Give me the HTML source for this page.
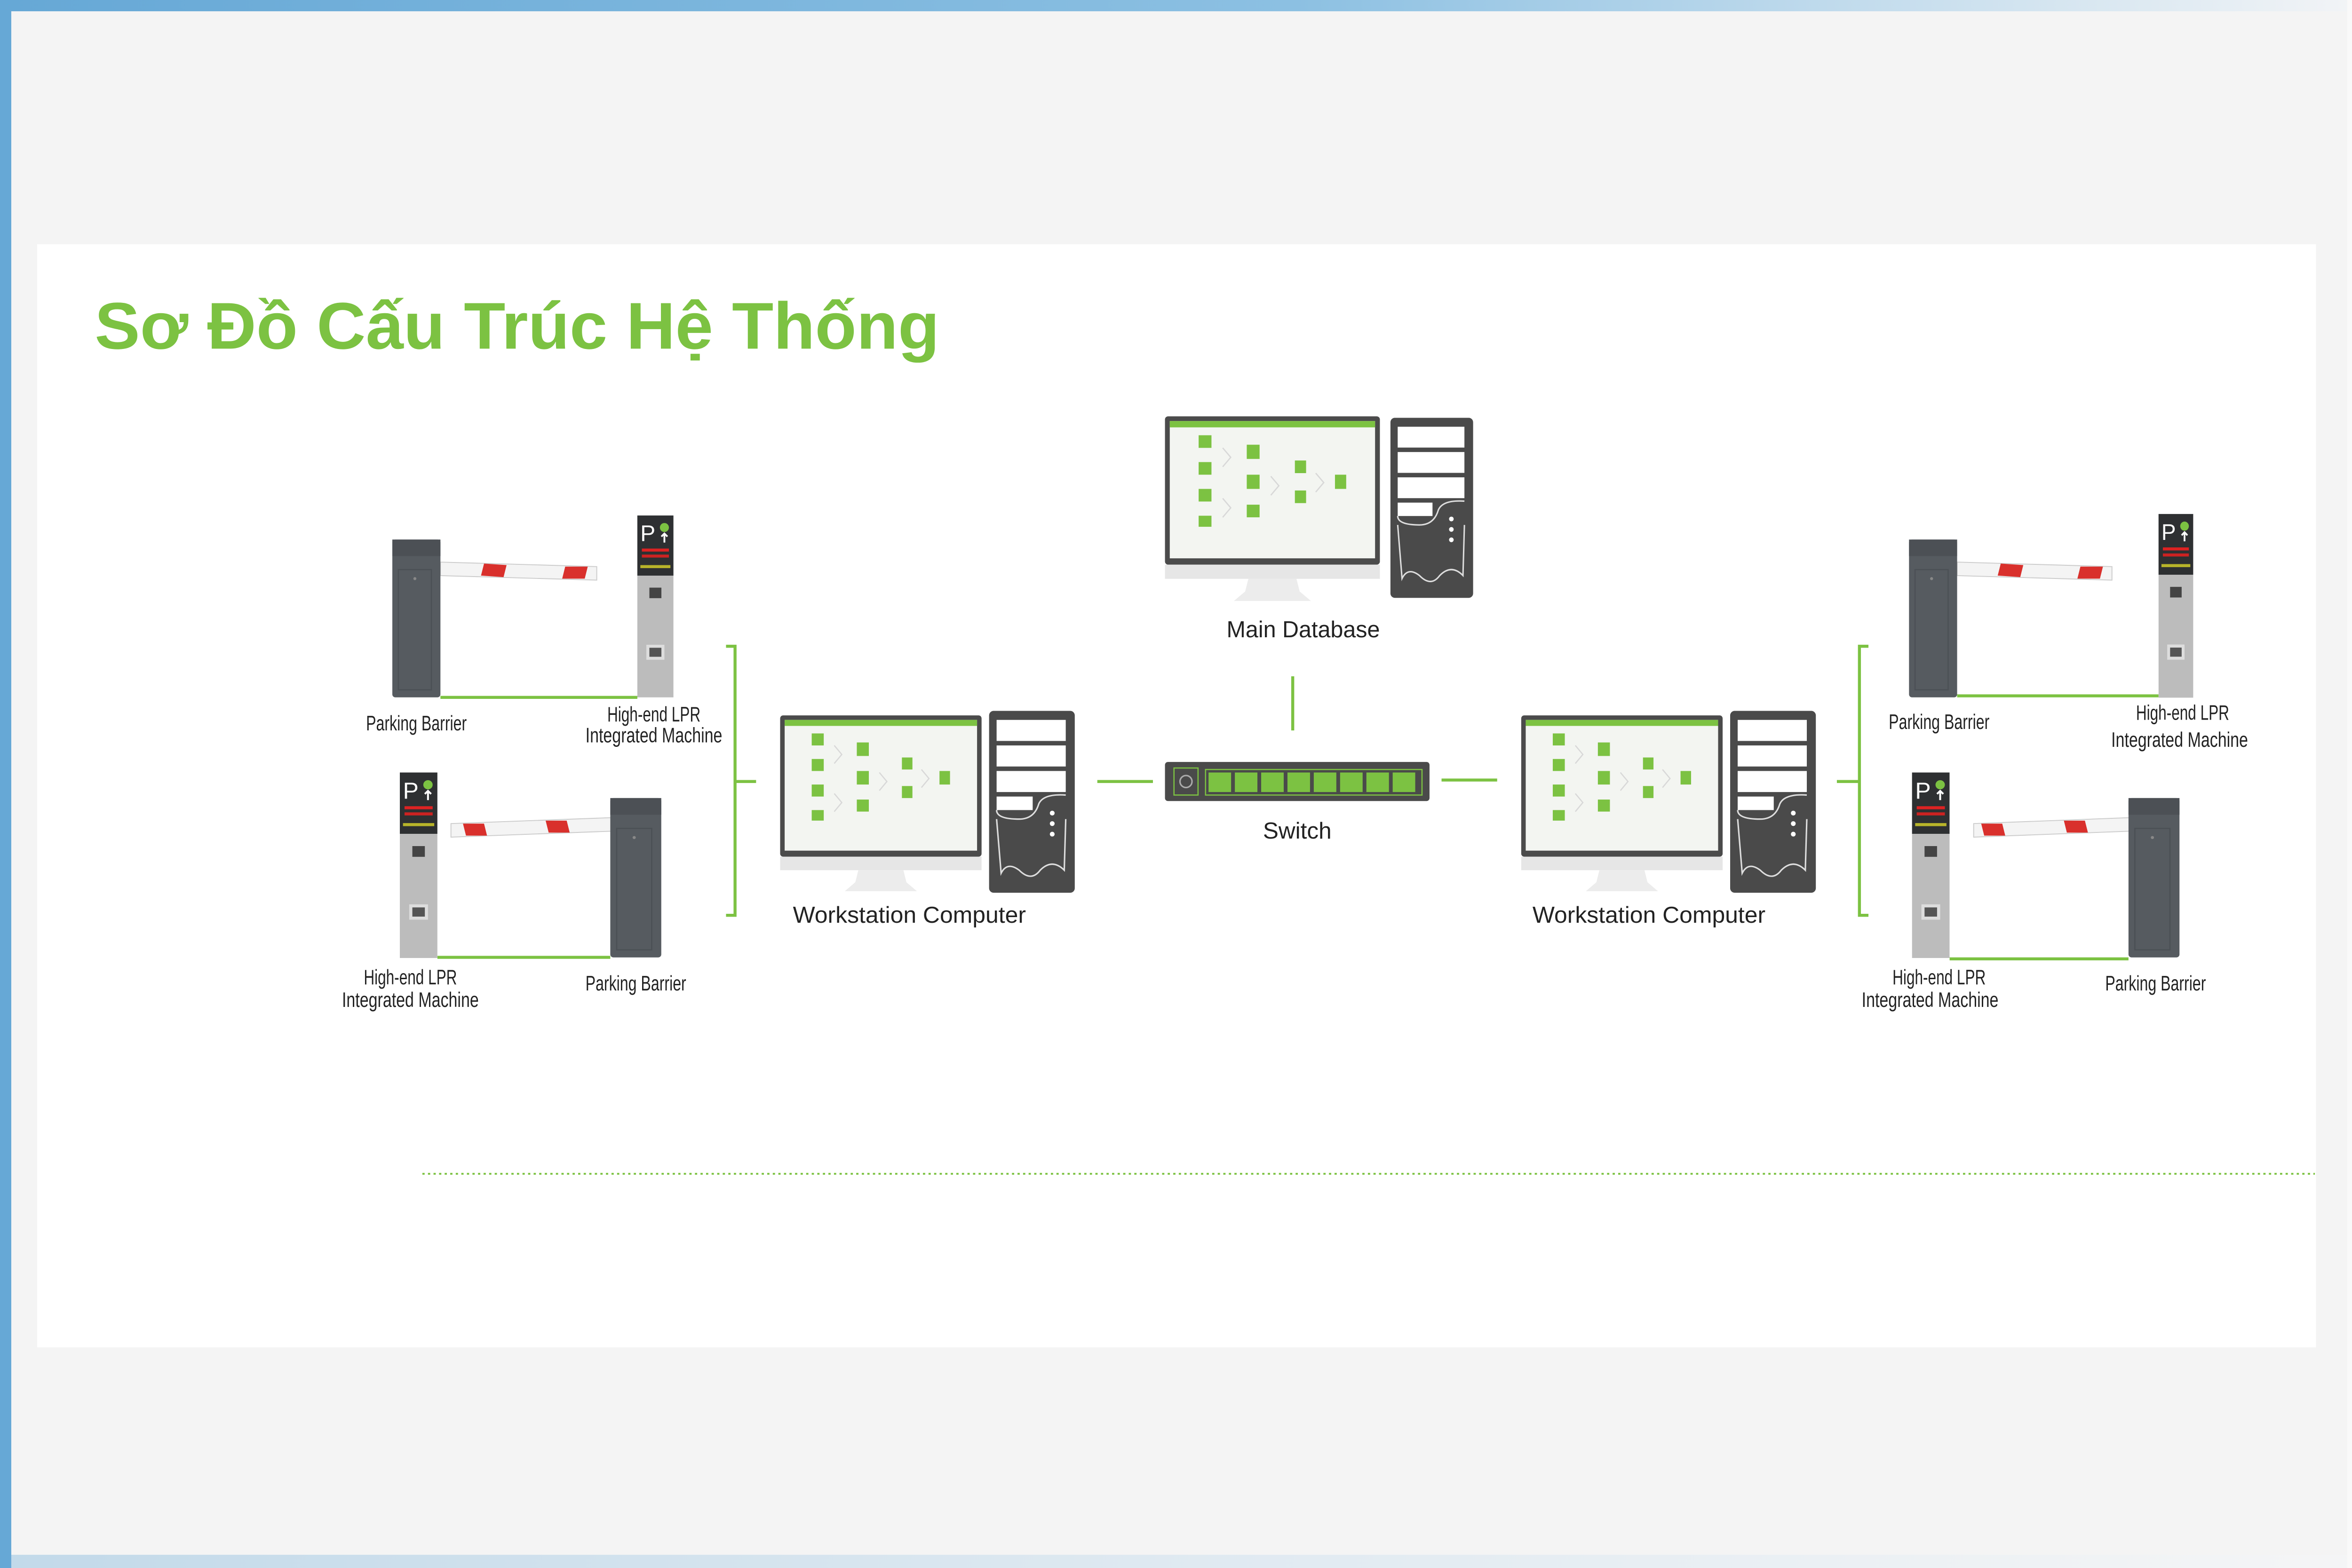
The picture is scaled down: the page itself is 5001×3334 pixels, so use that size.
<!DOCTYPE html>
<html><head><meta charset="utf-8"><style>
html,body{margin:0;padding:0;background:#f4f4f4;}
svg{display:block;}
.lb{font-family:"Liberation Sans",sans-serif;font-size:14px;fill:#222;text-anchor:middle;}
.mb{font-family:"Liberation Sans",sans-serif;font-size:15.5px;fill:#222;text-anchor:middle;}
</style></head><body>
<svg width="5001" height="3334" viewBox="0 0 1565 1043.3" preserveAspectRatio="none" xmlns="http://www.w3.org/2000/svg">
<defs>
<linearGradient id="tg" x1="0" x2="1" y1="0" y2="0"><stop offset="0" stop-color="#66a8d6"/><stop offset="0.55" stop-color="#8cc0e2"/><stop offset="1" stop-color="#f2f4f6"/></linearGradient>
<linearGradient id="bg" x1="0" x2="1" y1="0" y2="0"><stop offset="0" stop-color="#66a8d6"/><stop offset="0.5" stop-color="#b9d6ec"/><stop offset="1" stop-color="#f6f8fa"/></linearGradient>
<symbol id="mon" viewBox="0 0 134 117" width="134" height="117" overflow="visible">
<rect x="0" y="0" width="134" height="94" rx="2" fill="#4b4b4b"/>
<rect x="3" y="3" width="128" height="87" fill="#f3f5f1"/>
<rect x="3" y="3" width="128" height="4" fill="#7cc242"/>
<g fill="#7cc242">
<rect x="21" y="12" width="8" height="8"/><rect x="21" y="29" width="8" height="8"/><rect x="21" y="46" width="8" height="8"/><rect x="21" y="63" width="8" height="7"/>
<rect x="51" y="18" width="8" height="9"/><rect x="51" y="37" width="8" height="9"/><rect x="51" y="56" width="8" height="8"/>
<rect x="81" y="28" width="7" height="8"/><rect x="81" y="47" width="7" height="8"/>
<rect x="106" y="37" width="7" height="9"/>
</g>
<g stroke="#d8d8d8" fill="none" stroke-width="0.8"><path d="M36 20 L41 26 L36 32"/><path d="M36 52 L41 58 L36 64"/><path d="M66 38 L71 44 L66 50"/><path d="M94 36 L99 42 L94 48"/></g>
<rect x="0" y="94" width="134" height="9" fill="#e6e6e6"/>
<path d="M52 103 L82 103 L84 111 L91 117 L43 117 L50 111Z" fill="#ececec"/>
</symbol>
<symbol id="tow" viewBox="0 0 57 121" width="57" height="121" overflow="visible">
<rect x="0" y="0" width="57" height="121" rx="3" fill="#4a4a4a"/>
<rect x="5" y="6" width="46" height="14" fill="#fff"/>
<rect x="5" y="23" width="46" height="14" fill="#fff"/>
<rect x="5" y="40" width="46" height="14" fill="#fff"/>
<rect x="5" y="57" width="24" height="9" fill="#fff"/>
<g fill="none" stroke="#ddd" stroke-width="1"><path d="M5 66 Q5 72 20 72 Q30 72 33 62 Q36 55 51 56"/><path d="M5 72 L8 108 Q12 100 20 106 Q28 114 34 106 Q42 98 50 106 L51 72"/></g>
<g fill="#fff"><circle cx="42" cy="68" r="1.6"/><circle cx="42" cy="75" r="1.6"/><circle cx="42" cy="82" r="1.6"/></g>
</symbol>
<symbol id="post" viewBox="0 0 32 105" width="32" height="105" overflow="visible">
<rect x="0" y="0" width="32" height="105" rx="2" fill="#565b60"/>
<rect x="0" y="0" width="32" height="11" fill="#4c5055"/>
<rect x="4" y="20" width="22" height="80" fill="none" stroke="#4b5055" stroke-width="0.8"/>
<circle cx="15" cy="26" r="1" fill="#888"/>
</symbol>
<symbol id="lpr" viewBox="0 0 24 121" width="24" height="121" overflow="visible">
<rect x="0" y="0" width="24" height="121" fill="#bcbcbc"/>
<rect x="0" y="0" width="24" height="40" fill="#2e3032"/>
<text x="2" y="17" font-family="Liberation Sans,sans-serif" font-size="15" fill="#fff">P</text>
<circle cx="18" cy="8" r="3" fill="#7cc242"/>
<path d="M18 12 L18 18 M16 14 L18 12 L20 14" stroke="#fff" stroke-width="1.2" fill="none"/>
<rect x="3" y="22" width="18" height="2" fill="#d22"/><rect x="3" y="26" width="18" height="2" fill="#c22"/>
<rect x="2" y="33" width="20" height="2" fill="#b8b42a"/>
<rect x="8" y="48" width="8" height="7" fill="#444"/>
<rect x="6" y="86" width="12" height="10" fill="#ddd"/><rect x="8" y="88" width="8" height="6" fill="#555"/>
</symbol>
</defs>
<rect x="0" y="0" width="1565" height="1043.3" fill="#f4f4f4"/>
<rect x="0" y="0" width="1565" height="7.5" fill="url(#tg)"/>
<rect x="0" y="0" width="7.5" height="1043.3" fill="#66a8d6"/>
<rect x="7.5" y="1034.5" width="1557.5" height="9" fill="url(#bg)" opacity="0.35"/>
<rect x="1561.5" y="0" width="3.5" height="1043.3" fill="#f9f9f9"/>
<rect x="24.7" y="162.5" width="1516" height="734" fill="#fff"/>

<text x="63" y="232" font-family="Liberation Sans,sans-serif" font-weight="bold" font-size="44" fill="#7cc242" textLength="562" lengthAdjust="spacingAndGlyphs">Sơ Đồ Cấu Trúc Hệ Thống</text>

<g stroke="#7cc242" stroke-width="2" fill="none">
<path d="M483 430 H489 V609 H483 M489 520 H503"/>
<path d="M1243 430 H1237 V609 H1243 M1237 520 H1222"/>
<path d="M730 520 H767"/><path d="M959 519 H996"/><path d="M860 450 V486"/>
<path d="M293 464 H424"/><path d="M291 637 H406"/>
<path d="M1302 463 H1436"/><path d="M1297 638 H1416"/>
</g>
<line x1="281" y1="781" x2="1540" y2="781" stroke="#7cc242" stroke-width="1.2" stroke-dasharray="1.5 2.2"/>

<use href="#mon" transform="translate(775,277) scale(1.067,1.05)"/>
<use href="#tow" transform="translate(925,278) scale(0.965,0.99)"/>
<use href="#mon" transform="translate(519,476)"/>
<use href="#tow" transform="translate(658,473)"/>
<use href="#mon" transform="translate(1012,476)"/>
<use href="#tow" transform="translate(1151,473)"/>

<rect x="775" y="507" width="176" height="26" rx="2" fill="#4a4a4a"/>
<rect x="781" y="511" width="16" height="18" fill="none" stroke="#7cc242" stroke-width="0.8"/>
<circle cx="789" cy="520" r="4" fill="none" stroke="#aaa" stroke-width="1"/>
<g fill="#7cc242"><rect x="802" y="512" width="144" height="17" fill="none" stroke="#7cc242" stroke-width="0.8"/>
<rect x="804" y="514" width="15" height="13"/><rect x="821.5" y="514" width="15" height="13"/><rect x="839" y="514" width="15" height="13"/><rect x="856.5" y="514" width="15" height="13"/><rect x="874" y="514" width="15" height="13"/><rect x="891.5" y="514" width="15" height="13"/><rect x="909" y="514" width="15" height="13"/><rect x="926.5" y="514" width="15" height="13"/></g>

<polygon points="293,374 397,377 397,386 293,383" fill="#f4f4f4" stroke="#ccc" stroke-width="0.6"/>
<polygon points="322,375 337,376 335,384 320,383" fill="#d9302c"/><polygon points="376,377 391,377 389,385 374,385" fill="#d9302c"/>
<use href="#post" transform="translate(261,359)"/>
<use href="#lpr" transform="translate(424,343)"/>
<polygon points="300,548 408,544 408,553 300,557" fill="#f4f4f4" stroke="#ccc" stroke-width="0.6"/>
<polygon points="308,548 322,548 324,556 310,556" fill="#d9302c"/><polygon points="363,546 377,546 379,554 365,554" fill="#d9302c"/>
<use href="#lpr" transform="translate(266,514) scale(1.04,1.02)"/>
<use href="#post" transform="translate(406,531) scale(1.06,1.01)"/>
<polygon points="1302,374 1405,377 1405,386 1302,383" fill="#f4f4f4" stroke="#ccc" stroke-width="0.6"/>
<polygon points="1331,375 1346,376 1344,384 1329,383" fill="#d9302c"/><polygon points="1384,377 1399,377 1397,385 1382,385" fill="#d9302c"/>
<use href="#post" transform="translate(1270,359)"/>
<use href="#lpr" transform="translate(1436,342) scale(0.96,1.01)"/>
<polygon points="1313,548 1418,544 1418,553 1313,557" fill="#f4f4f4" stroke="#ccc" stroke-width="0.6"/>
<polygon points="1318,548 1332,548 1334,556 1320,556" fill="#d9302c"/><polygon points="1373,546 1387,546 1389,554 1375,554" fill="#d9302c"/>
<use href="#lpr" transform="translate(1272,514) scale(1.04,1.02)"/>
<use href="#post" transform="translate(1416,531) scale(1.06,1.01)"/>

<text class="mb" x="867" y="424" textLength="102" lengthAdjust="spacingAndGlyphs">Main Database</text>
<text class="mb" x="863" y="558">Switch</text>
<text class="mb" x="605" y="614" textLength="155" lengthAdjust="spacingAndGlyphs">Workstation Computer</text>
<text class="mb" x="1097" y="614" textLength="155" lengthAdjust="spacingAndGlyphs">Workstation Computer</text>

<text class="lb" x="277" y="486" textLength="67" lengthAdjust="spacingAndGlyphs">Parking Barrier</text>
<text class="lb" x="435" y="480" textLength="62" lengthAdjust="spacingAndGlyphs">High-end LPR</text>
<text class="lb" x="435" y="494" textLength="91" lengthAdjust="spacingAndGlyphs">Integrated Machine</text>
<text class="lb" x="273" y="655" textLength="62" lengthAdjust="spacingAndGlyphs">High-end LPR</text>
<text class="lb" x="273" y="670" textLength="91" lengthAdjust="spacingAndGlyphs">Integrated Machine</text>
<text class="lb" x="423" y="659" textLength="67" lengthAdjust="spacingAndGlyphs">Parking Barrier</text>

<text class="lb" x="1290" y="485" textLength="67" lengthAdjust="spacingAndGlyphs">Parking Barrier</text>
<text class="lb" x="1452" y="479" textLength="62" lengthAdjust="spacingAndGlyphs">High-end LPR</text>
<text class="lb" x="1450" y="497" textLength="91" lengthAdjust="spacingAndGlyphs">Integrated Machine</text>
<text class="lb" x="1290" y="655" textLength="62" lengthAdjust="spacingAndGlyphs">High-end LPR</text>
<text class="lb" x="1284" y="670" textLength="91" lengthAdjust="spacingAndGlyphs">Integrated Machine</text>
<text class="lb" x="1434" y="659" textLength="67" lengthAdjust="spacingAndGlyphs">Parking Barrier</text>
</svg>
</body></html>
